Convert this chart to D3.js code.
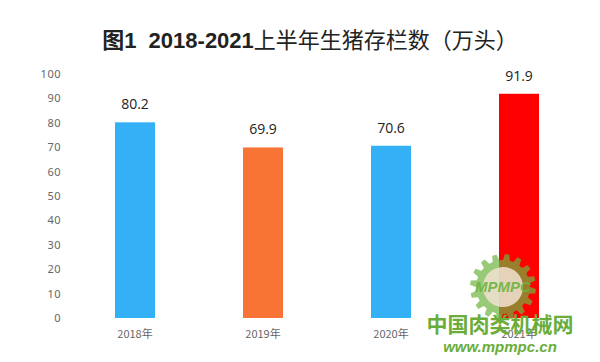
<!DOCTYPE html>
<html><head><meta charset="utf-8">
<script src="https://cdn.jsdelivr.net/npm/d3@7"></script>
<style>body{margin:0;background:#fff}svg{display:block}</style>
</head><body>
<script>
const categories = ["2018年","2019年","2020年","2021年"];
const values = [80.2, 69.9, 70.6, 91.9];
const colors = ["#33b0f6","#f87435","#33b0f6","#ff0000"];
const yTicks = [0,10,20,30,40,50,60,70,80,90,100];
const titleBold = "图1\u00a0\u00a02018-2021";
const titleRest = "上半年生猪存栏数（万头）";

const W=600,H=362;
const svg=d3.select("body").append("svg").attr("width",W).attr("height",H);
const x=d3.scaleBand().domain(categories).range([71,583]).paddingInner(0.6875).paddingOuter(0.34375);
const y=d3.scaleLinear().domain([0,100]).range([318,74]);

// title
const t=svg.append("text").attr("x",310).attr("y",48).attr("text-anchor","middle")
  .attr("font-family","Liberation Sans, Arial, 'Noto Sans CJK SC', sans-serif").attr("font-size",22).attr("fill","#222");
t.append("tspan").attr("font-weight","bold").text(titleBold);
t.append("tspan").attr("font-weight","normal").attr("font-family","'Noto Sans CJK SC', sans-serif").text(titleRest);

// y axis
const ya=svg.append("g").attr("transform","translate(61,0)")
  .call(d3.axisLeft(y).tickValues(yTicks).tickSize(0).tickPadding(0));
ya.select(".domain").remove();
ya.selectAll("text").attr("font-family","'Noto Sans', 'DejaVu Sans', sans-serif").attr("font-size",11).attr("fill","#666").attr("letter-spacing",0.5);

// x axis labels
const xa=svg.append("g").attr("transform","translate(0,318)")
  .call(d3.axisBottom(x).tickSize(0).tickPadding(12));
xa.select(".domain").remove();
xa.selectAll("text").attr("font-family","'Noto Sans CJK SC', sans-serif").attr("font-size",11).attr("fill","#666");

// bars
svg.selectAll("rect.bar").data(values).join("rect").attr("class","bar")
  .attr("x",(d,i)=>x(categories[i])).attr("width",x.bandwidth())
  .attr("y",d=>y(d)).attr("height",d=>y(0)-y(d)).attr("fill",(d,i)=>colors[i]);

// value labels
svg.selectAll("text.val").data(values).join("text").attr("class","val")
  .attr("x",(d,i)=>x(categories[i])+x.bandwidth()/2).attr("y",d=>y(d)-13)
  .attr("text-anchor","middle").attr("font-family","'Open Sans', 'Noto Sans', sans-serif")
  .attr("font-size",14).attr("fill","#222").text(d=>d.toFixed(1));

// watermark
const wm=svg.append("g");
const cx=503,cy=287,ro=33,ri=27,n=16;
const pts=[];
for(let k=0;k<n;k++){
  const a0=k*2*Math.PI/n;
  const s=2*Math.PI/n;
  [[a0,ri],[a0+s*0.15,ro],[a0+s*0.5,ro],[a0+s*0.65,ri]].forEach(([a,r])=>pts.push([cx+r*Math.cos(a),cy+r*Math.sin(a)]));
}
wm.append("path").attr("d","M"+pts.map(p=>p.join(",")).join("L")+"Z").attr("fill","#6db33f").attr("opacity",0.7);
wm.append("circle").attr("cx",cx).attr("cy",cy).attr("r",20).attr("fill","#f1e2d2").attr("opacity",0.85);
wm.append("text").attr("x",cx).attr("y",cy+5).attr("text-anchor","middle").attr("font-family","Liberation Sans, sans-serif")
  .attr("font-style","italic").attr("font-weight","bold").attr("font-size",15).attr("fill","#6db33f").attr("opacity",0.9).text("MPMPC");
svg.append("text").attr("x",500).attr("y",332).attr("text-anchor","middle")
  .attr("font-family","'Noto Sans CJK SC', sans-serif").attr("font-weight","bold").attr("font-size",21).attr("fill","#6aad3a").text("中国肉类机械网");
svg.append("text").attr("x",500).attr("y",352).attr("text-anchor","middle")
  .attr("font-family","Liberation Sans, sans-serif").attr("font-style","italic").attr("font-weight","bold").attr("font-size",15).attr("fill","#6aad3a").text("www.mpmpc.cn");
</script>
</body></html>
